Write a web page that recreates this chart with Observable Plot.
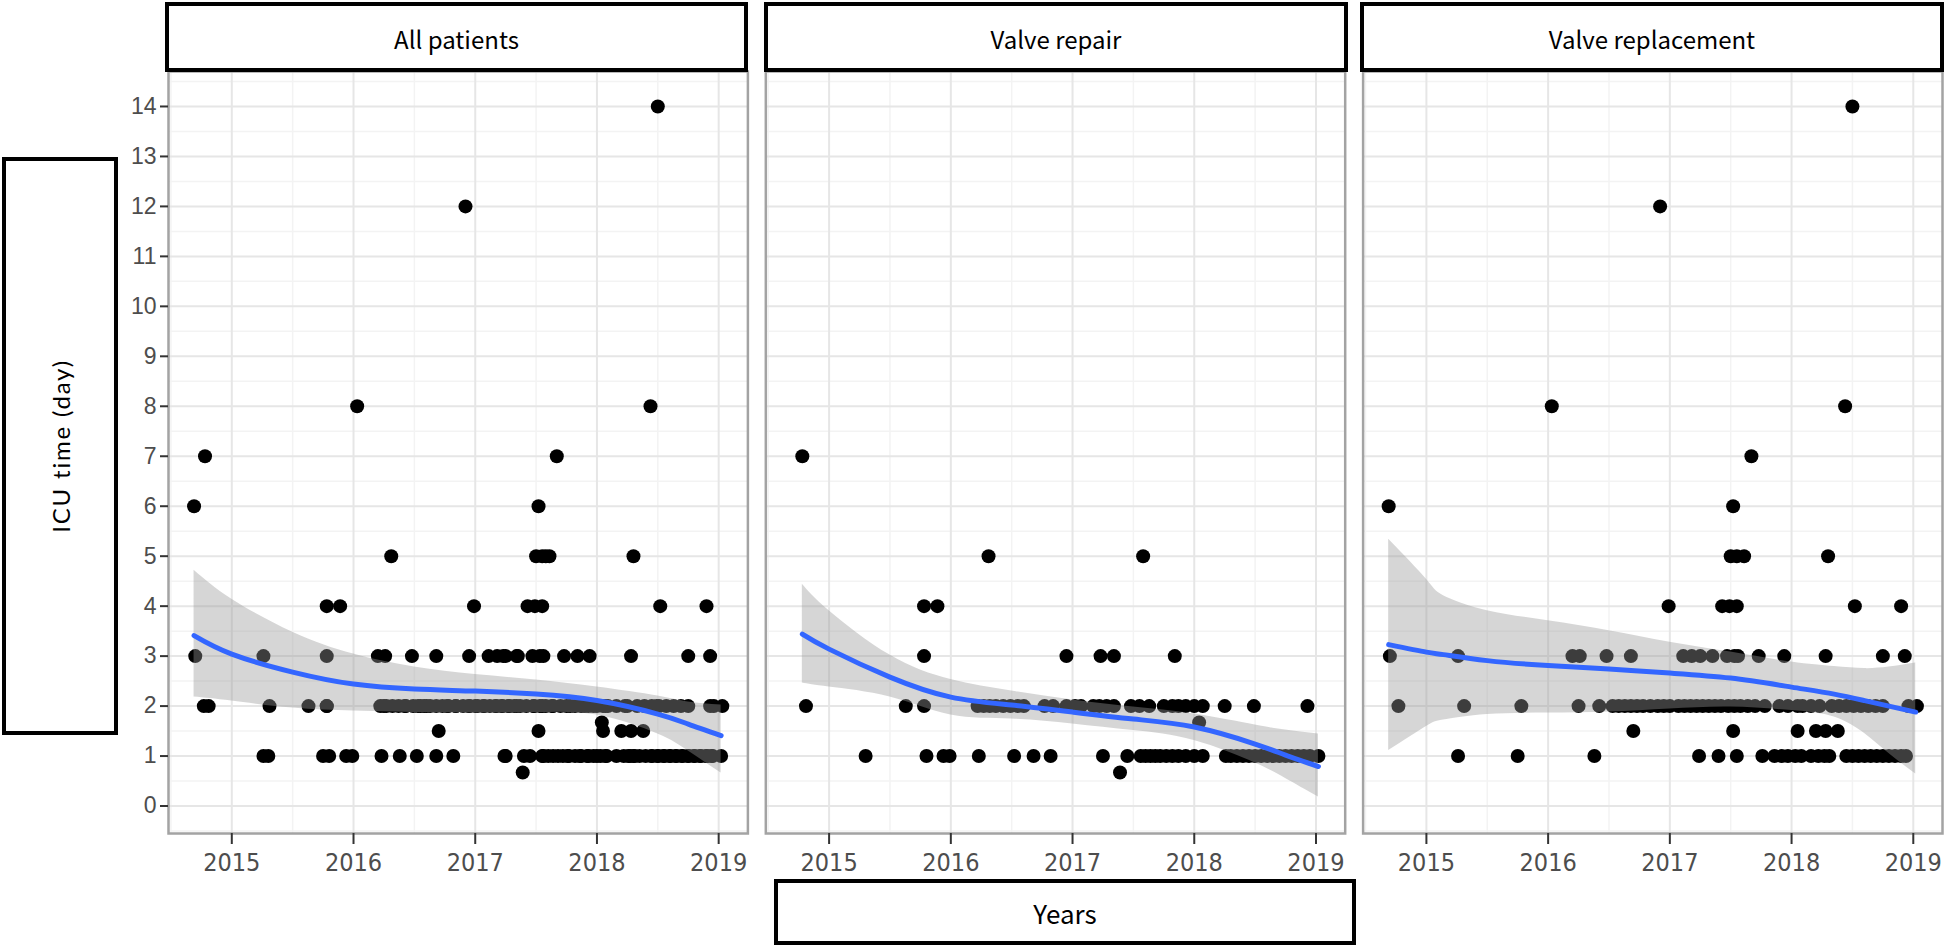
<!DOCTYPE html>
<html>
<head>
<meta charset="utf-8">
<script src="https://cdn.jsdelivr.net/npm/d3@7"></script>
<script src="https://cdn.jsdelivr.net/npm/@observablehq/plot@0.6"></script>
<style>
html, body { margin: 0; padding: 0; background: #fff; }
#wrap { position: relative; width: 1946px; height: 949px; overflow: hidden; background: #fff; }
#chart { position: absolute; left: 0; top: 0; }
.box { position: absolute; box-sizing: border-box; border: 4px solid #000; background: #fff;
       display: flex; align-items: center; justify-content: center;
       font-family: "Noto Sans CJK KR", "Noto Sans", sans-serif; color: #000; }
.strip { font-size: 24px; padding-top: 2px; }
.ylab span { writing-mode: vertical-rl; transform: rotate(180deg); font-family: Lato, "Open Sans", sans-serif;
             font-size: 24px; letter-spacing: 1.8px; }
.xlab { font-size: 26px; }
</style>
</head>
<body>
<div id="wrap">
  <div id="chart"></div>
  <div class="box strip" style="left:165px; top:2px; width:583px; height:70px;" id="s0"></div>
  <div class="box strip" style="left:764px; top:2px; width:584px; height:70px;" id="s1"></div>
  <div class="box strip" style="left:1360px; top:2px; width:584px; height:70px;" id="s2"></div>
  <div class="box ylab" style="left:2px; top:157px; width:116px; height:578px;"><span id="ylabel"></span></div>
  <div class="box xlab" style="left:774px; top:879px; width:582px; height:66px;" id="xlabel"></div>
</div>
<script>
// ---------- data ----------
const panels = ["All patients", "Valve repair", "Valve replacement"];
const yTitle = "ICU time (day)";
const xTitle = "Years";

const yTicks = [0, 1, 2, 3, 4, 5, 6, 7, 8, 9, 10, 11, 12, 13, 14];
const yMinor = [-0.5, 0.5, 1.5, 2.5, 3.5, 4.5, 5.5, 6.5, 7.5, 8.5, 9.5, 10.5, 11.5, 12.5, 13.5, 14.5];
const xTicks = [2015, 2016, 2017, 2018, 2019];
const xMinor = [2014.5, 2015.5, 2016.5, 2017.5, 2018.5];

// [decimal year, ICU days]
const repairPoints = [
  [2014.78, 7],
  [2016.31, 5], [2017.58, 5],
  [2015.78, 4], [2015.89, 4],
  [2015.78, 3], [2016.95, 3], [2017.23, 3], [2017.34, 3], [2017.84, 3],
  [2014.81, 2], [2015.63, 2], [2015.78, 2], [2016.22, 2], [2016.27, 2], [2016.32, 2], [2016.37, 2],
  [2016.43, 2], [2016.49, 2], [2016.55, 2], [2016.60, 2], [2016.77, 2], [2016.84, 2], [2016.95, 2],
  [2017.02, 2], [2017.07, 2], [2017.17, 2], [2017.22, 2], [2017.28, 2], [2017.34, 2], [2017.48, 2],
  [2017.55, 2], [2017.63, 2], [2017.75, 2], [2017.82, 2], [2017.87, 2], [2017.93, 2], [2018.00, 2],
  [2018.07, 2], [2018.25, 2], [2018.49, 2], [2018.93, 2],
  [2018.04, 1.67],
  [2015.30, 1], [2015.80, 1], [2015.94, 1], [2015.99, 1], [2016.23, 1], [2016.52, 1], [2016.68, 1],
  [2016.82, 1], [2017.25, 1], [2017.45, 1], [2017.56, 1], [2017.60, 1], [2017.64, 1], [2017.68, 1],
  [2017.72, 1], [2017.77, 1], [2017.82, 1], [2017.87, 1], [2017.93, 1], [2018.00, 1], [2018.07, 1],
  [2018.26, 1], [2018.30, 1], [2018.35, 1], [2018.40, 1], [2018.45, 1], [2018.50, 1], [2018.55, 1],
  [2018.60, 1], [2018.65, 1], [2018.70, 1], [2018.75, 1], [2018.80, 1], [2018.85, 1], [2018.90, 1],
  [2018.95, 1], [2019.02, 1],
  [2017.39, 0.67]
];

const replacePoints = [
  [2018.50, 14],
  [2016.92, 12],
  [2016.03, 8], [2018.44, 8],
  [2017.67, 7],
  [2014.69, 6], [2017.52, 6],
  [2017.50, 5], [2017.55, 5], [2017.61, 5], [2018.30, 5],
  [2016.99, 4], [2017.43, 4], [2017.49, 4], [2017.55, 4], [2018.52, 4], [2018.90, 4],
  [2014.70, 3], [2015.26, 3], [2016.20, 3], [2016.26, 3], [2016.48, 3], [2016.68, 3], [2017.11, 3],
  [2017.18, 3], [2017.25, 3], [2017.35, 3], [2017.47, 3], [2017.53, 3], [2017.56, 3], [2017.73, 3],
  [2017.94, 3], [2018.28, 3], [2018.75, 3], [2018.93, 3],
  [2014.77, 2], [2015.31, 2], [2015.78, 2], [2016.25, 2], [2016.42, 2], [2016.53, 2], [2016.58, 2],
  [2016.63, 2], [2016.68, 2], [2016.73, 2], [2016.78, 2], [2016.84, 2], [2016.90, 2], [2016.95, 2],
  [2017.00, 2], [2017.07, 2], [2017.12, 2], [2017.17, 2], [2017.22, 2], [2017.27, 2], [2017.32, 2],
  [2017.37, 2], [2017.42, 2], [2017.48, 2], [2017.53, 2], [2017.58, 2], [2017.64, 2], [2017.70, 2],
  [2017.78, 2], [2017.90, 2], [2017.97, 2], [2018.05, 2], [2018.09, 2], [2018.16, 2], [2018.23, 2],
  [2018.33, 2], [2018.39, 2], [2018.45, 2], [2018.51, 2], [2018.57, 2], [2018.63, 2], [2018.69, 2],
  [2018.75, 2], [2018.96, 2], [2019.03, 2],
  [2016.70, 1.5], [2017.52, 1.5], [2018.05, 1.5], [2018.20, 1.5], [2018.28, 1.5], [2018.38, 1.5],
  [2015.26, 1], [2015.75, 1], [2016.38, 1], [2017.24, 1], [2017.40, 1], [2017.55, 1], [2017.76, 1],
  [2017.86, 1], [2017.92, 1], [2017.97, 1], [2018.03, 1], [2018.08, 1], [2018.16, 1], [2018.22, 1],
  [2018.27, 1], [2018.31, 1], [2018.45, 1], [2018.50, 1], [2018.55, 1], [2018.60, 1], [2018.65, 1],
  [2018.70, 1], [2018.75, 1], [2018.80, 1], [2018.85, 1], [2018.90, 1], [2018.94, 1]
];

// smoother (loess fit with 95% band)
const allSmoothYear = [2014.69, 2015, 2015.5, 2016, 2016.5, 2017, 2017.5, 2018, 2018.5, 2018.75, 2019.02];
const allSmoothFit  = [3.41, 3.04, 2.68, 2.44, 2.34, 2.30, 2.24, 2.11, 1.84, 1.64, 1.41];
const allSmoothLo   = [2.18, 2.10, 1.96, 1.90, 1.87, 1.86, 1.87, 1.82, 1.44, 1.10, 0.66];
const allSmoothHi   = [4.72, 4.14, 3.48, 3.04, 2.78, 2.63, 2.52, 2.38, 2.20, 2.08, 2.02];

const repSmoothYear = [2014.78, 2015, 2015.5, 2016, 2016.5, 2017, 2017.5, 2018, 2018.5, 2018.75, 2019.02];
const repSmoothFit  = [3.44, 3.14, 2.58, 2.18, 2.02, 1.88, 1.74, 1.58, 1.24, 1.02, 0.79];
const repSmoothLo   = [2.46, 2.38, 2.18, 1.82, 1.74, 1.64, 1.51, 1.31, 0.86, 0.55, 0.18];
const repSmoothHi   = [4.44, 3.91, 3.02, 2.53, 2.30, 2.12, 1.98, 1.84, 1.62, 1.52, 1.44];

const rplSmoothYear = [2014.69, 2015, 2015.14, 2015.5, 2016, 2016.5, 2017, 2017.5, 2018, 2018.35, 2018.6, 2018.8, 2019.02];
const rplSmoothFit  = [3.23, 3.08, 3.03, 2.91, 2.81, 2.74, 2.66, 2.56, 2.38, 2.24, 2.11, 2.00, 1.88];
const rplSmoothLo   = [1.11, 1.59, 1.72, 1.83, 1.86, 1.88, 1.94, 1.98, 1.91, 1.78, 1.45, 1.05, 0.64];
const rplSmoothHi   = [5.34, 4.54, 4.21, 3.91, 3.71, 3.51, 3.28, 3.08, 2.88, 2.79, 2.75, 2.78, 2.86];

// ---------- tables ----------
const toRows = (pts, panel) => pts.map(([year, days]) => ({panel, year, days}));
const points = [
  ...toRows(repairPoints, panels[0]), ...toRows(replacePoints, panels[0]),
  ...toRows(repairPoints, panels[1]),
  ...toRows(replacePoints, panels[2])
];
const toSmooth = (panel, yr, fit, lo, hi) => yr.map((year, i) => ({panel, year, fit: fit[i], lo: lo[i], hi: hi[i]}));
const smooth = [
  ...toSmooth(panels[0], allSmoothYear, allSmoothFit, allSmoothLo, allSmoothHi),
  ...toSmooth(panels[1], repSmoothYear, repSmoothFit, repSmoothLo, repSmoothHi),
  ...toSmooth(panels[2], rplSmoothYear, rplSmoothFit, rplSmoothLo, rplSmoothHi)
];

// ---------- plot ----------
const chart = Plot.plot({
  width: 1946,
  height: 949,
  marginTop: 71,
  marginBottom: 116,
  marginLeft: 168,
  marginRight: 4,
  style: {fontFamily: "'Liberation Sans', Arial, sans-serif", background: "white", overflow: "visible"},
  fx: {domain: panels, paddingInner: 0.03, paddingOuter: 0, round: false, axis: null, label: null},
  x: {domain: [2014.48, 2019.24], label: null},
  y: {domain: [-0.55, 14.7], label: null},
  marks: [
    Plot.gridX({ticks: xMinor, stroke: "#f3f3f3", strokeOpacity: 1, strokeWidth: 1.5}),
    Plot.gridY({ticks: yMinor, stroke: "#f3f3f3", strokeOpacity: 1, strokeWidth: 1.5}),
    Plot.gridX({ticks: xTicks, stroke: "#e6e6e6", strokeOpacity: 1, strokeWidth: 2}),
    Plot.gridY({ticks: yTicks, stroke: "#e6e6e6", strokeOpacity: 1, strokeWidth: 2}),
    Plot.dot(points, {x: "year", y: "days", fx: "panel", r: 7, fill: "#000", stroke: null}),
    Plot.areaY(smooth, {x: "year", y1: "lo", y2: "hi", fx: "panel", fill: "#999999", fillOpacity: 0.4, curve: "natural"}),
    Plot.line(smooth, {x: "year", y: "fit", fx: "panel", stroke: "#3366FF", strokeWidth: 5, curve: "natural"}),
    Plot.frame({stroke: "#a3a3a3", strokeWidth: 2.5}),
    Plot.axisY({ticks: yTicks, tickSize: 8, tickPadding: 4, fontSize: 23, stroke: "#333", fill: "#4d4d4d", strokeWidth: 2, label: null}),
    Plot.axisX({ticks: xTicks, tickFormat: d => String(d), tickSize: 11, tickPadding: 9, fontSize: 25,
                fontFamily: "'Liberation Sans Narrow', 'DejaVu Sans Condensed', 'Liberation Sans', sans-serif",
                stroke: "#333", fill: "#4d4d4d", strokeWidth: 2, label: null})
  ]
});
document.getElementById("chart").appendChild(chart);
document.getElementById("s0").textContent = panels[0];
document.getElementById("s1").textContent = panels[1];
document.getElementById("s2").textContent = panels[2];
document.getElementById("ylabel").textContent = yTitle;
document.getElementById("xlabel").textContent = xTitle;
</script>
</body>
</html>
